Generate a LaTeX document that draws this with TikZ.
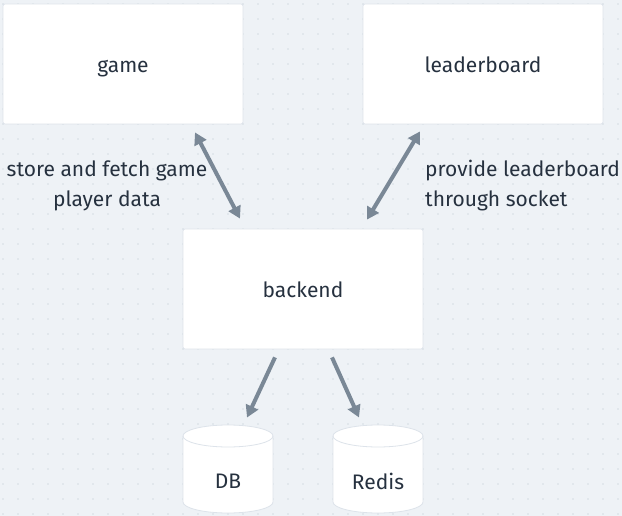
\documentclass[tikz,border=0pt]{standalone}
\usepackage{fontspec}
\setmainfont{Fira Sans}
\usetikzlibrary{arrows.meta,calc}
\definecolor{bgc}{HTML}{EEF2F6}
\definecolor{dotc}{HTML}{B9C3CE}
\definecolor{arrc}{HTML}{7A8896}
\definecolor{txtc}{HTML}{26313F}
\definecolor{edgec}{HTML}{DDE3EA}
\tikzset{
  box/.style={draw=edgec, line width=0.8pt, fill=white, rounded corners=2pt, minimum width=240pt, minimum height=120pt, inner sep=0pt, text height=20pt, text depth=2pt, font=\fontsize{21}{24}\selectfont, text=txtc},
  lbl/.style={font=\fontsize{21}{30}\selectfont, text=txtc, inner sep=0pt},
  conn/.style={draw=arrc, line width=4pt},
  tip/.style={-{Triangle[length=12pt,width=13pt]}},
  dtip/.style={{Triangle[length=12pt,width=13pt]}-{Triangle[length=12pt,width=13pt]}},
  cyltxt/.style={inner sep=0pt, font=\fontsize{21}{24}\selectfont, text=txtc},
}
\begin{document}
\begin{tikzpicture}[x=1pt,y=-1pt]
\useasboundingbox (0,0) rectangle (622,516);
\fill[bgc] (0,0) rectangle (622,516);
\foreach \i in {0,...,41}{
  \foreach \j in {0,...,34}{
    \fill[dotc] ({3+15*\i},{4+15*\j}) circle (0.6);
  }
}
% boxes
\node[box] (game) at (123,64) {game};
\node[box] (leader) at (483,64) {leaderboard};
\node[box] (backend) at (303,289) {backend};
% cylinders
\foreach \cx/\nm/\t in {228/DB/DB,378/Redis/Redis}{
  \fill[white,draw=edgec,line width=0.8pt] ({\cx-45},436) -- ({\cx-45},502) arc[start angle=180,end angle=0,x radius=45,y radius=11] -- ({\cx+45},436) arc[start angle=0,end angle=-180,x radius=45,y radius=11] -- cycle;
  \draw[edgec,line width=0.8pt] ({\cx-45},436) arc[start angle=180,end angle=0,x radius=45,y radius=11];
  \node[cyltxt] (\nm) at (\cx,481) {\t};
}
% connectors
\draw[conn,dtip] ($(game.south)+(72,8)$) -- ($(backend.north)+(-63,-10)$);
\draw[conn,dtip] ($(leader.south)+(-63,7)$) -- ($(backend.north)+(64,-9)$);
\draw[conn,tip] ($(backend.south)+(-28,8)$) -- ($(DB.north)+(19,-56)$);
\draw[conn,tip] ($(backend.south)+(29,8)$) -- ($(Redis.north)+(-19,-55)$);
% labels
\node[lbl,align=center] (l1) at (107,186) {store and fetch game\\player data};
\node[lbl,align=left,anchor=west] (l2) at (425,186) {provide leaderboard\\through socket};
\end{tikzpicture}
\end{document}
